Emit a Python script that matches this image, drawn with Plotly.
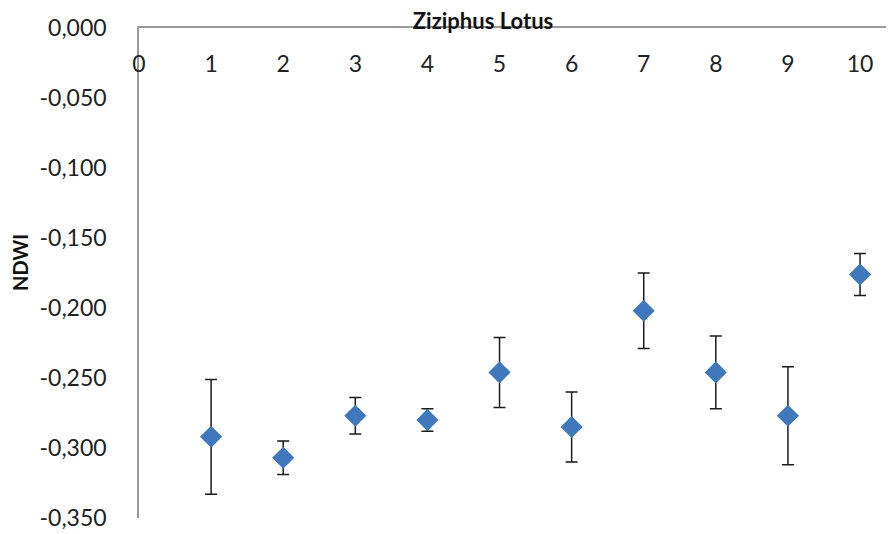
import plotly.graph_objects as go

# NDWI per sample (mean and standard deviation)
samples = [1, 2, 3, 4, 5, 6, 7, 8, 9, 10]
ndwi_mean = [-0.292, -0.307, -0.277, -0.280, -0.246, -0.285, -0.202, -0.246, -0.277, -0.176]
ndwi_sd = [0.041, 0.012, 0.013, 0.008, 0.025, 0.025, 0.027, 0.026, 0.035, 0.015]

x_ticks = [0, 1, 2, 3, 4, 5, 6, 7, 8, 9, 10]
y_ticks = [0.0, -0.05, -0.10, -0.15, -0.20, -0.25, -0.30, -0.35]
y_ticklabels = [f"{v:.3f}".replace(".", ",").replace("-0,000", "0,000") for v in y_ticks]

W, H = 889, 534
L, R, T, B = 139, 3, 28, 16
font = "Lato, 'Open Sans', sans-serif"

fig = go.Figure()
fig.add_trace(go.Scatter(
    x=samples, y=ndwi_mean, mode="markers",
    marker=dict(symbol="diamond", size=17, color="#3f78bd", line=dict(width=0)),
    error_y=dict(type="data", array=ndwi_sd, visible=True, color="#1a1a1a",
                 thickness=1.5, width=6),
    showlegend=False,
))

fig.update_layout(
    width=W, height=H,
    margin=dict(l=L, r=R, t=T, b=B, pad=0),
    paper_bgcolor="white", plot_bgcolor="white",
    font=dict(family=font, color="#222222", size=23),
    title=dict(text="<b>Ziziphus Lotus</b>", x=483 / W, xanchor="center",
               y=1 - 21 / H, yanchor="middle", yref="container",
               font=dict(family=font, size=22, color="#111111")),
    # category axis sits on the top edge (y = 0), labels hang below the line
    xaxis=dict(range=[0, 10.36], side="top", tickvals=x_ticks,
               ticktext=[str(v) for v in x_ticks],
               ticklabelstandoff=-55,
               showline=True, linecolor="#9a9a9a", linewidth=1.5,
               ticks="", showgrid=False, zeroline=False),
    yaxis=dict(range=[-0.35, 0], tickvals=y_ticks, ticktext=y_ticklabels,
               ticklabelstandoff=26,
               showline=True, linecolor="#9a9a9a", linewidth=1.5,
               ticks="", showgrid=False, zeroline=False),
    annotations=[dict(text="<b>NDWI</b>", textangle=-90, xref="paper", yref="paper",
                      x=(20 - L) / (W - L - R), y=1 - (262 - T) / (H - T - B),
                      xanchor="center", yanchor="middle", showarrow=False,
                      font=dict(family=font, size=20, color="#111111"))],
)

fig.write_html("out.html")
